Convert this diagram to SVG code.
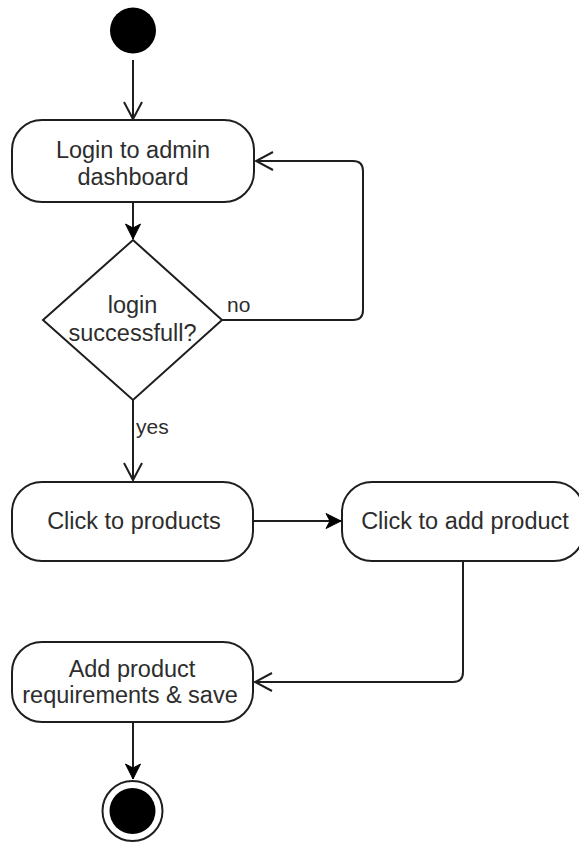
<svg xmlns="http://www.w3.org/2000/svg" width="579" height="843" viewBox="0 0 579 843">
  <style>
    .node { fill: #ffffff; stroke: #1e1e1e; stroke-width: 2; }
    .solid { fill: #000000; }
    .ring { fill: #ffffff; stroke: #1e1e1e; stroke-width: 2; }
    .edge { fill: none; stroke: #1e1e1e; stroke-width: 2; }
    .label { font-family: "Liberation Sans", Arial, sans-serif; font-size: 23.5px; fill: #2d2d2d; text-anchor: middle; }
    .tag { font-family: "Liberation Sans", Arial, sans-serif; font-size: 21px; fill: #2d2d2d; }
  </style>
  <defs>
    <marker id="open" markerUnits="userSpaceOnUse" viewBox="-19 -11 21 22" refX="0" refY="0" markerWidth="21" markerHeight="22" orient="auto" overflow="visible">
      <path d="M-17,-9 L0,0 L-17,9" fill="none" stroke="#1e1e1e" stroke-width="2"/>
    </marker>
    <marker id="block" markerUnits="userSpaceOnUse" viewBox="-16 -9 18 18" refX="0" refY="0" markerWidth="18" markerHeight="18" orient="auto" overflow="visible">
      <path d="M0,0 L-15,-7.5 L-11,0 L-15,7.5 Z" fill="#000000" stroke="#000000" stroke-width="1"/>
    </marker>
  </defs>

  <g id="connectors">
    <path class="edge" d="M133,60 L133,119" marker-end="url(#open)"/>
    <path class="edge" d="M133,202 L133,239" marker-end="url(#block)"/>
    <path class="edge" d="M222,320 L353,320 Q363,320 363,310 L363,171 Q363,161 353,161 L256,161" marker-end="url(#open)"/>
    <path class="edge" d="M133,400 L133,480" marker-end="url(#open)"/>
    <path class="edge" d="M253,521 L341,521" marker-end="url(#block)"/>
    <path class="edge" d="M463,561 L463,672 Q463,682 453,682 L255,682" marker-end="url(#open)"/>
    <path class="edge" d="M133,722 L133,779" marker-end="url(#block)"/>
    <text class="tag" x="227" y="312">no</text>
    <text class="tag" x="136" y="434">yes</text>
  </g>

  <g id="start">
    <circle class="solid" cx="133" cy="30.5" r="23"/>
  </g>

  <g id="login">
    <rect class="node" x="12" y="120" width="242" height="82" rx="30" ry="30"/>
    <text class="label" x="133" y="158">Login to admin</text>
    <text class="label" x="133" y="185">dashboard</text>
  </g>

  <g id="decision">
    <polygon class="node" points="133,240 222,320 133,400 43,320"/>
    <text class="label" x="132.5" y="313">login</text>
    <text class="label" x="132.5" y="341">successfull?</text>
  </g>

  <g id="products">
    <rect class="node" x="12" y="482" width="241" height="79" rx="30" ry="30"/>
    <text class="label" x="134" y="529">Click to products</text>
  </g>

  <g id="add-product">
    <rect class="node" x="342" y="482" width="242" height="79" rx="30" ry="30"/>
    <text class="label" x="465" y="529">Click to add product</text>
  </g>

  <g id="requirements">
    <rect class="node" x="12" y="642" width="241" height="80" rx="30" ry="30"/>
    <text class="label" x="132" y="677">Add product</text>
    <text class="label" x="130" y="703">requirements &amp; save</text>
  </g>

  <g id="end">
    <circle class="ring" cx="132.5" cy="811" r="30"/>
    <circle class="solid" cx="132.5" cy="811" r="23"/>
  </g>
</svg>
